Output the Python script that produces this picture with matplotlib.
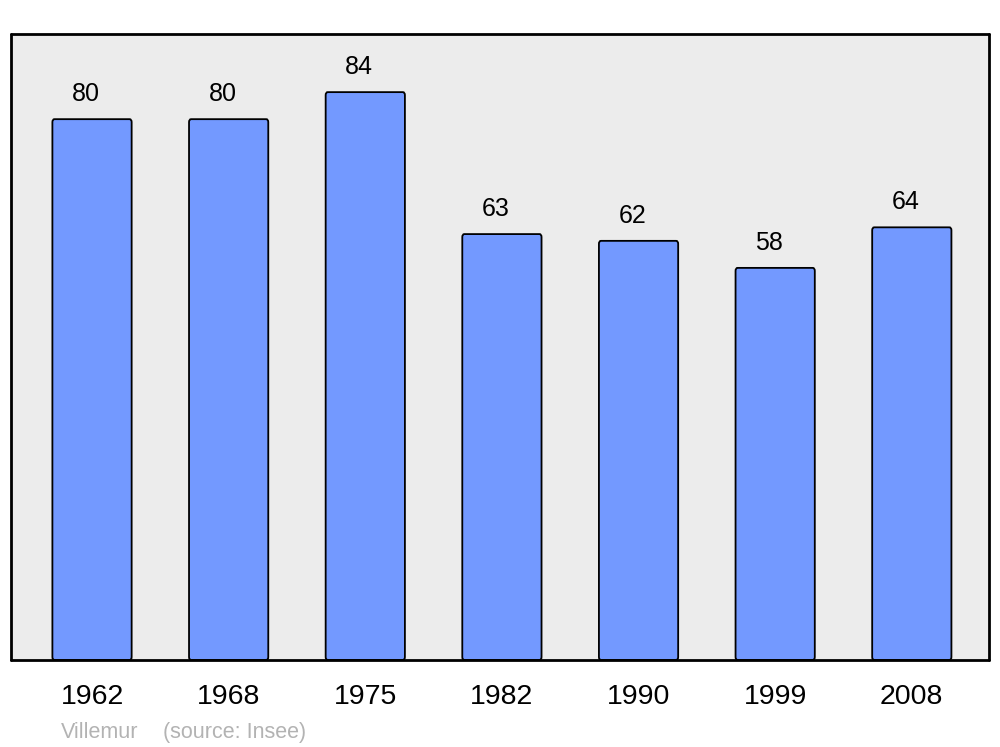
import numpy as np
import matplotlib
matplotlib.use("Agg")
import matplotlib.pyplot as plt
from matplotlib.patches import FancyBboxPatch

plt.rcParams['font.family'] = ['Liberation Sans', 'DejaVu Sans']

years = ['1962', '1968', '1975', '1982', '1990', '1999', '2008']
population = [80, 80, 84, 63, 62, 58, 64]
commune = 'Villemur'
source = '(source: Insee)'

fig = plt.figure(figsize=(10, 7.47), dpi=100)
ax = fig.add_axes([0.011, 0.1165, 0.978, 0.838])
ax.set_facecolor('#ececec')

x = np.arange(len(years))
width = 0.58
for xi, v in zip(x, population):
    ax.add_patch(FancyBboxPatch((xi - width / 2, 0), width, v,
                                boxstyle='round,pad=0,rounding_size=0.015',
                                mutation_aspect=30,
                                facecolor='#7399ff', edgecolor='black',
                                linewidth=1.3, zorder=2))
    ax.text(xi - 0.045, v + 2.7, str(v), ha='center', va='baseline',
            fontsize=18, color='black')

ax.set_xlim(-0.593, 6.565)
ax.set_ylim(0, 92.6)
ax.set_xticks(x)
ax.set_xticklabels(years, fontsize=20.5)
ax.tick_params(axis='x', length=0, pad=17)
ax.set_yticks([])
for s in ax.spines.values():
    s.set_linewidth(2)
    s.set_capstyle('round')

fig.text(0.061, 0.012, commune, fontsize=15.5, color='#b3b3b3', va='baseline')
fig.text(0.163, 0.012, source, fontsize=15.5, color='#b3b3b3', va='baseline')

fig.savefig('out.png', dpi=100)
